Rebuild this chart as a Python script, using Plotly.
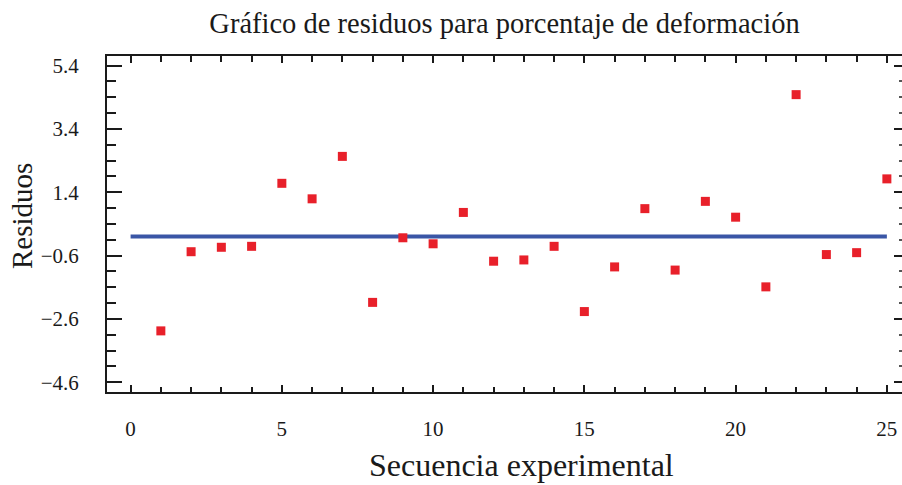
import plotly.graph_objects as go

# Residuals for percent deformation, in run order
secuencia = list(range(1, 26))
residuos = [-2.98, -0.48, -0.34, -0.31, 1.68, 1.19, 2.53, -2.08, -0.04, -0.23,
            0.76, -0.78, -0.74, -0.31, -2.37, -0.96, 0.88, -1.06, 1.11, 0.61,
            -1.59, 4.48, -0.57, -0.51, 1.82]

linea_x = [0, 25]
linea_y = [0, 0]

y_ticks = [5.4, 3.4, 1.4, -0.6, -2.6, -4.6]
x_ticks = [0, 5, 10, 15, 20, 25]

x_range = [-0.78, 25.5]
y_range = [-4.91, 5.70]

serif = "Liberation Serif, Times New Roman, serif"
ink = "#1a1a1a"

fig = go.Figure()

fig.add_trace(go.Scatter(
    x=linea_x, y=linea_y, mode="lines",
    line=dict(color="#3a56a6", width=4),
    showlegend=False, hoverinfo="skip",
))
fig.add_trace(go.Scatter(
    x=secuencia, y=residuos, mode="markers",
    marker=dict(symbol="square", size=9, color="#e8202a", line=dict(width=0)),
    showlegend=False,
))
# empty trace so the top/right tick axes are drawn
fig.add_trace(go.Scatter(x=[], y=[], xaxis="x2", yaxis="y2", showlegend=False))

fig.update_layout(
    width=902, height=485,
    margin=dict(l=107, r=0, t=56, b=93),
    paper_bgcolor="white", plot_bgcolor="white",
    font=dict(family=serif, color=ink),
    title=dict(
        text="Gráfico de residuos para porcentaje de deformación",
        font=dict(family=serif, size=28.5, color=ink),
        x=0.5, xref="paper", xanchor="center",
        y=1 - 23 / 485, yref="container", yanchor="middle",
    ),
    xaxis=dict(
        range=x_range, tickvals=x_ticks, ticktext=[str(v) for v in x_ticks],
        ticks="inside", ticklen=7, tickwidth=1.5, tickcolor=ink,
        minor=dict(dtick=1, tick0=0, ticks="inside", ticklen=5, tickwidth=1.5, tickcolor=ink),
        showline=True, linecolor=ink, linewidth=2,
        showgrid=False, zeroline=False,
        tickfont=dict(family=serif, size=21, color=ink),
        ticklabelstandoff=17,
    ),
    yaxis=dict(
        range=y_range, tickmode="linear", tick0=-4.6, dtick=2, tickformat=".1f",
        ticks="inside", ticklen=15, tickwidth=2, tickcolor=ink,
        minor=dict(dtick=0.5, tick0=-4.6, ticks="inside", ticklen=9, tickwidth=2, tickcolor=ink),
        showline=True, linecolor=ink, linewidth=2,
        showgrid=False, zeroline=False,
        tickfont=dict(family=serif, size=21, color=ink),
        ticklabelstandoff=22,
    ),
    xaxis2=dict(
        overlaying="x", side="top", anchor="y2", range=x_range,
        tickvals=x_ticks, showticklabels=False,
        ticks="inside", ticklen=7, tickwidth=1.5, tickcolor=ink,
        minor=dict(dtick=1, tick0=0, ticks="inside", ticklen=6, tickwidth=1.5, tickcolor=ink),
        showline=True, linecolor=ink, linewidth=2,
        showgrid=False, zeroline=False,
    ),
    yaxis2=dict(
        overlaying="y", side="right", anchor="x2", range=y_range,
        tickmode="linear", tick0=-4.6, dtick=2, showticklabels=False,
        ticks="inside", ticklen=8, tickwidth=2, tickcolor=ink,
        minor=dict(dtick=0.5, tick0=-4.6, ticks="inside", ticklen=3, tickwidth=1.5, tickcolor="#555"),
        showline=False, showgrid=False, zeroline=False,
    ),
    annotations=[
        dict(
            text="Residuos", textangle=-90, showarrow=False,
            xref="paper", x=0, xanchor="center", xshift=-85,
            yref="paper", y=0.5, yanchor="middle", yshift=8,
            font=dict(family=serif, size=29, color=ink),
        ),
        dict(
            text="Secuencia experimental", showarrow=False,
            xref="paper", x=0.5, xanchor="center", xshift=17,
            yref="paper", y=0, yanchor="middle", yshift=-73,
            font=dict(family=serif, size=32, color=ink),
        ),
    ],
)

fig.write_html("out.html")
